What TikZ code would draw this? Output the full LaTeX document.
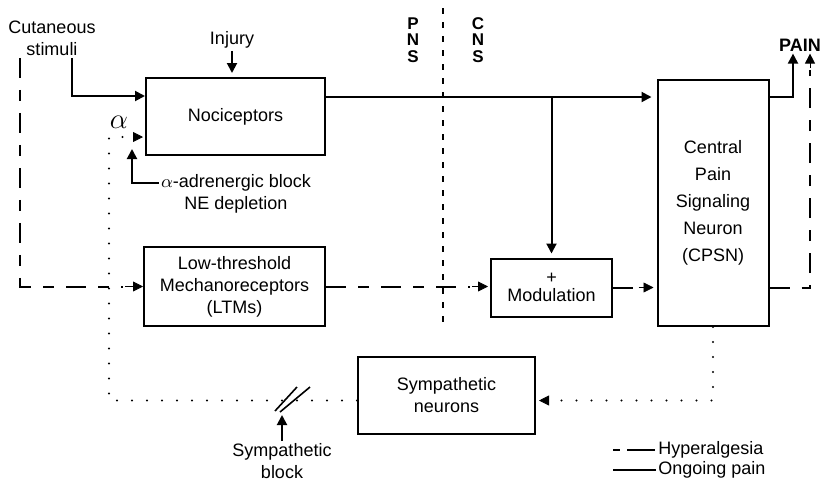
\documentclass[tikz,border=0pt]{standalone}
\usepackage{fontspec}
\setmainfont{Liberation Sans}
\usepackage{tikz}
\usetikzlibrary{arrows.meta, positioning, calc}

\tikzset{
  block/.style={draw, line width=1pt, align=center, inner sep=0pt},
  lbl/.style={align=center, inner sep=1pt},
  pain/.style={line width=1pt, -{Triangle[length=5pt,width=5pt]}},
  hyper/.style={line width=1pt, dash pattern=on 10pt off 6pt on 5.5pt off 6pt},
  sympline/.style={line width=1.1pt, line cap=round, dash pattern=on 0pt off 7.5pt},
  border/.style={line width=0.8pt, dash pattern=on 3pt off 4pt},
  tip/.style={-{Triangle[length=5pt,width=5pt]}}
}

\begin{document}
\begin{tikzpicture}[x=0.5pt, y=-0.5pt, font=\fontsize{9}{11}\selectfont]
  \useasboundingbox (0,0) rectangle (823,483);

  % Blocks
  \node[block, minimum width=89.5pt, minimum height=38.5pt] (noci) at (235.5,116.5) {Nociceptors};
  \node[block, minimum width=90.5pt, minimum height=39.5pt] (ltm) at (234.5,286.5) {Low-threshold\\Mechanoreceptors\\(LTMs)};
  \node[block, minimum width=60.5pt, minimum height=29pt] (modul) at (551.5,287.5) {+\\[-2pt]Modulation};
  \node[block, minimum width=55.5pt, minimum height=123pt] (cpsn) at (713,203) {Central\\[2.5pt]Pain\\[2.5pt]Signaling\\[2.5pt]Neuron\\[2.5pt](CPSN)};
  \node[block, minimum width=88.5pt, minimum height=38.5pt] (symp) at (446.5,395.5) {Sympathetic\\neurons};

  % Labels
  \node[lbl] (stim) at (52,38) {Cutaneous\\stimuli};
  \node[lbl] (injury) at (232,40) {Injury};
  \node[lbl] (alpha) at (119,122) {\fontsize{14}{14}\selectfont$\alpha$};
  \node[lbl] (ablock) at (236,194) {$\alpha$-adrenergic block\\NE depletion};
  \node[lbl] (sblock) at (282,461) {Sympathetic\\block};
  \node[lbl, font=\bfseries\fontsize{8.5}{8.2}\selectfont] (pns) at (413,40) {P\\N\\S};
  \node[lbl, font=\bfseries\fontsize{8.5}{8.2}\selectfont] (cns) at (478,40) {C\\N\\S};
  \node[lbl, font=\bfseries\fontsize{9}{11}\selectfont] (pain) at (800,45) {PAIN};

  % PNS / CNS border
  \draw[border] (443,8) -- (443,328);

  % Ongoing pain
  \draw[pain] ([xshift=10pt]stim.south) |- ([yshift=-9.5pt]noci.north west);
  \draw[pain, shorten >=2pt] (injury.south) -- (injury.south |- noci.north);
  \draw[pain, shorten >=2.5pt] ([yshift=-10pt]noci.north east) coordinate (nociout) -- (nociout -| cpsn.west);
  \draw[pain, shorten >=2pt] (nociout -| modul.north) -- (modul.north);
  \draw[pain] (nociout -| cpsn.east) -| ([xshift=-3.5pt]pain.south);

  % Hyperalgesia
  \draw[hyper] ([xshift=-16pt]stim.south) |- ([xshift=-10pt]ltm.west);
  \draw[tip] ([xshift=-9pt]ltm.west) -- (ltm.west);
  \draw[hyper] (ltm.east) -- ([xshift=-10pt]ltm.east -| modul.west);
  \draw[tip] ([xshift=-9pt]ltm.east -| modul.west) -- ([xshift=-1pt]ltm.east -| modul.west);
  \draw[hyper] (modul.east) -- ([xshift=-10pt]modul.east -| cpsn.west);
  \draw[tip] ([xshift=-9pt]modul.east -| cpsn.west) -- ([xshift=-1.5pt]modul.east -| cpsn.west);
  \draw[hyper] (modul.east -| cpsn.east) -| ([xshift=5pt,yshift=-8pt]pain.south);
  \draw[tip] ([xshift=5pt,yshift=-7pt]pain.south) -- ([xshift=5pt]pain.south);

  % Sympathetic loop
  \coordinate (dotin) at ([yshift=9.5pt]noci.south west);
  \coordinate (cut) at (292,400);
  \draw[sympline] (cpsn.south) |- ([xshift=8pt,yshift=-2.5pt]symp.east);
  \draw[tip] ([xshift=6pt,yshift=-2.5pt]symp.east) -- ([xshift=1.5pt,yshift=-2.5pt]symp.east);
  \draw[sympline] ([yshift=-2.5pt]symp.west) -| ([xshift=-18pt]dotin) -- ([xshift=-6pt]dotin);
  \draw[tip] ([xshift=-6pt]dotin) -- ([xshift=-1pt]dotin);

  % Blocks on the loop
  \draw[pain, shorten >=6pt] ([yshift=5.5pt]ablock.west) -| ([xshift=-6.5pt]dotin);
  \draw[line width=0.8pt] ([shift={(-17,11)}]cut) -- ([shift={(5,-13)}]cut);
  \draw[line width=0.8pt] ([shift={(-12,12)}]cut) -- ([shift={(18,-13)}]cut);
  \draw[pain, shorten >=7.5pt] (sblock.north) -- (sblock.north |- cut);

  % Legend
  \node[lbl, anchor=west] (leghyp) at (656,450) {Hyperalgesia};
  \node[lbl, anchor=west] (legpain) at (656,470) {Ongoing pain};
  \draw[line width=1pt, dash pattern=on 3.5pt off 3.5pt on 14pt off 10pt] (613,450) -- (leghyp.west);
  \draw[line width=1pt] (613,470) -- (legpain.west);
\end{tikzpicture}
\end{document}
